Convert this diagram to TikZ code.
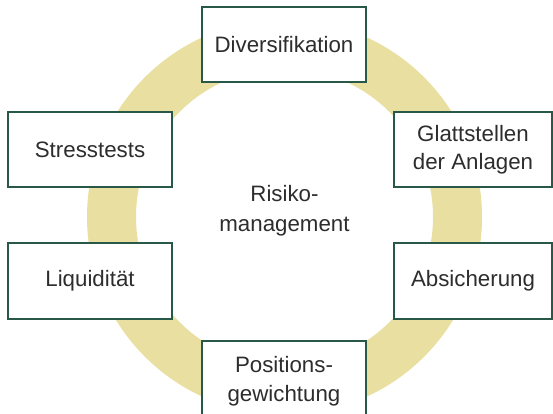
\documentclass[tikz,border=0pt]{standalone}
\usepackage{fontspec}
\setmainfont{Liberation Sans}
\definecolor{ringc}{RGB}{233,223,160}
\definecolor{boxline}{RGB}{40,88,72}
\definecolor{txt}{RGB}{45,45,45}
\begin{document}
\begin{tikzpicture}[x=1pt,y=-1pt,
  box/.style={draw=boxline, line width=1.2pt, fill=white, minimum width=164pt,
    minimum height=75pt, inner sep=0pt, align=center,
    font=\fontsize{22.3}{28.5}\selectfont, text=txt},
  centertext/.style={align=center, font=\fontsize{22.3}{30}\selectfont, text=txt}]
\useasboundingbox (0,0) rectangle (553,414);
\fill[ringc, even odd rule] (284.5,217) circle[radius=197.5pt] (284.5,217) circle[radius=148.5pt];
\node[box] (div) at (284,44.5) {Diversifikation};
\node[box] (stress) at (90,149.5) {Stresstests};
\node[box, minimum width=158pt] (glatt) at (473,149.5) {Glattstellen\\der Anlagen};
\node[box, minimum height=76pt] (liq) at (90,281) {Liquidität};
\node[box, minimum width=158pt, minimum height=76pt] (absi) at (473,281) {Absicherung};
\node[box, minimum height=80pt] (pos) at (284,381) {Positions-\\gewichtung};
\node[centertext] (risk) at (284.5,211) {Risiko-\\management};
\end{tikzpicture}
\end{document}
